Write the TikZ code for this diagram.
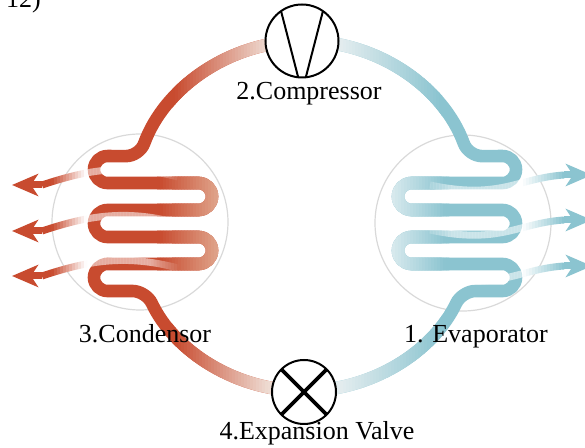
\documentclass[tikz,border=0pt]{standalone}
\usepackage{fontspec}
\setmainfont{Liberation Serif}
\usetikzlibrary{arrows.meta}

\definecolor{hotred}{HTML}{C84B2F}
\definecolor{hotpale}{HTML}{EEDBD2}
\definecolor{hotpeach}{HTML}{DFA48B}
\definecolor{coldblue}{HTML}{8BC4D0}
\definecolor{coldpale}{HTML}{E4EDEF}
\definecolor{coldwhite}{HTML}{D9EAEE}
\definecolor{ringgray}{HTML}{D9D9D9}

\tikzset{
  pipe/.style={line width=6.3pt, line join=round, rounded corners=6.75pt},
  heat/.style={line width=3.5pt},
  heattip/.style={-{Stealth[length=13pt, width=11pt, inset=3.5pt]}},
  ring/.style={circle, draw=ringgray, line width=0.6pt, minimum size=88pt, inner sep=0pt},
  device/.style={circle, draw, line width=1pt, fill=white, inner sep=0pt, outer sep=0pt},
  tag/.style={anchor=base, font=\fontsize{13}{15}\selectfont},
  % hot half of the loop: compressor -> condensor coil -> valve
  hotloop/.style={insert path={(304,41) arc[start angle=270, end angle=200, radius=175]
    -- (94,156) -- (94,183) -- (212,183) -- (212,210) -- (94,210) -- (94,237)
    -- (212,237) -- (212,264) -- (94,264) -- (94,291) -- (146,291)
    arc[start angle=154.6, end angle=90, radius=175]}},
  % cold half: compressor -> evaporator coil -> valve
  coldloop/.style={insert path={(304,41) arc[start angle=270, end angle=340, radius=175]
    -- (516,156) -- (516,183) -- (398,183) -- (398,210) -- (516,210) -- (516,237)
    -- (398,237) -- (398,264) -- (516,264) -- (516,291) -- (462,291)
    arc[start angle=25.4, end angle=90, radius=175]}}
}

\begin{document}
\begin{tikzpicture}[x=0.5pt, y=-0.5pt]
  \useasboundingbox (0,0) rectangle (585,448);

  \node[ring] (condRing) at (140,222) {};
  \node[ring] (evapRing) at (463,223) {};

  % hot side, faded by vertical strips
  \draw[pipe, hotred, hotloop];
  \foreach \x in {172,175,...,301} {
    \pgfmathsetmacro\p{max(0,min(100,100*(268-\x-1.5)/93))}
    \begin{scope}
      \clip (\x,0) rectangle (\x+3.4,448);
      \draw[pipe, hotred!\p!hotpale, hotloop];
    \end{scope}
  }
  \foreach \x in {157,160,...,222} {
    \pgfmathsetmacro\p{max(0,min(100,100*(218-\x-1.5)/58))}
    \begin{scope}
      \clip (\x,148) rectangle (\x+3.4,300);
      \draw[pipe, hotred!\p!hotpeach, hotloop];
    \end{scope}
  }

  % cold side
  \draw[pipe, coldblue, coldloop];
  \foreach \x in {301,304,...,440} {
    \pgfmathsetmacro\p{max(0,min(100,100*(\x+1.5-340)/100))}
    \begin{scope}
      \clip (\x,0) rectangle (\x+3.4,448);
      \draw[pipe, coldblue!\p!coldpale, coldloop];
    \end{scope}
  }
  \foreach \x in {386,389,...,446} {
    \pgfmathsetmacro\p{max(0,min(100,100*(\x+1.5-392)/53))}
    \begin{scope}
      \clip (\x,148) rectangle (\x+3.4,300);
      \draw[pipe, coldblue!\p!coldwhite, coldloop];
    \end{scope}
  }

  % heat leaving the condensor
  \foreach \i/\T in {1/185,2/231,3/276} {
    \coordinate (cs\i) at (178,\T-8);
    \coordinate (ce\i) at (42,\T);
    \coordinate (ct\i) at (12,\T);
  }
  \foreach \i in {1,2,3} {
    \foreach \x in {39,42,...,178} {
      \pgfmathsetmacro\q{max(0,min(100,100*(86-\x-1.5)/34))}
      \pgfmathsetmacro\o{(\x+1.5<86) ? 1 : max(0,min(0.55,0.55*(180-\x-1.5)/30))}
      \begin{scope}
        \clip (\x,0) rectangle (\x+3,448);
        \draw[heat, draw=hotred!\q!white, draw opacity=\o]
          (cs\i) .. controls +(-53,-14) and +(45,-15) .. (ce\i);
      \end{scope}
    }
    \draw[heat, heattip, hotred] (ce\i) -- (ct\i);
  }

  % heat taken in by the evaporator
  \foreach \i/\T in {1/175,2/220,3/266} {
    \coordinate (es\i) at (430,\T+10);
    \coordinate (ee\i) at (564,\T);
    \coordinate (et\i) at (592,\T);
  }
  \foreach \i in {1,2,3} {
    \foreach \x in {424,427,...,564} {
      \pgfmathsetmacro\q{max(0,min(100,100*(\x+1.5-522)/42))}
      \pgfmathsetmacro\o{(\x+1.5>522) ? 1 : max(0,min(0.55,0.55*(\x+1.5-422)/30))}
      \begin{scope}
        \clip (\x,0) rectangle (\x+3,448);
        \draw[heat, draw=coldblue!\q!white, draw opacity=\o]
          (es\i) .. controls +(70,15) and +(-46,3) .. (ee\i);
      \end{scope}
    }
    \draw[heat, heattip, coldblue] (ee\i) -- (et\i);
  }

  % compressor and expansion valve
  \node[device, minimum size=36.5pt] (comp) at (302,41) {};
  \draw[line width=1pt] (comp.125) -- (comp.264) (comp.55) -- (comp.276);
  \node[device, minimum size=32pt] (valve) at (304,392) {};
  \draw[line width=1.8pt] (valve.45) -- (valve.225) (valve.135) -- (valve.315);

  \node[tag] (compLbl) at (309,100) {2.Compressor};
  \node[tag] (condLbl) at (145,343) {3.Condensor};
  \node[tag] (evapLbl) at (476,343) {1. Evaporator};
  \node[tag] (valveLbl) at (317,440) {4.Expansion Valve};
  \node[tag, anchor=base west] (figNo) at (-1,8) {12)};
\end{tikzpicture}
\end{document}
